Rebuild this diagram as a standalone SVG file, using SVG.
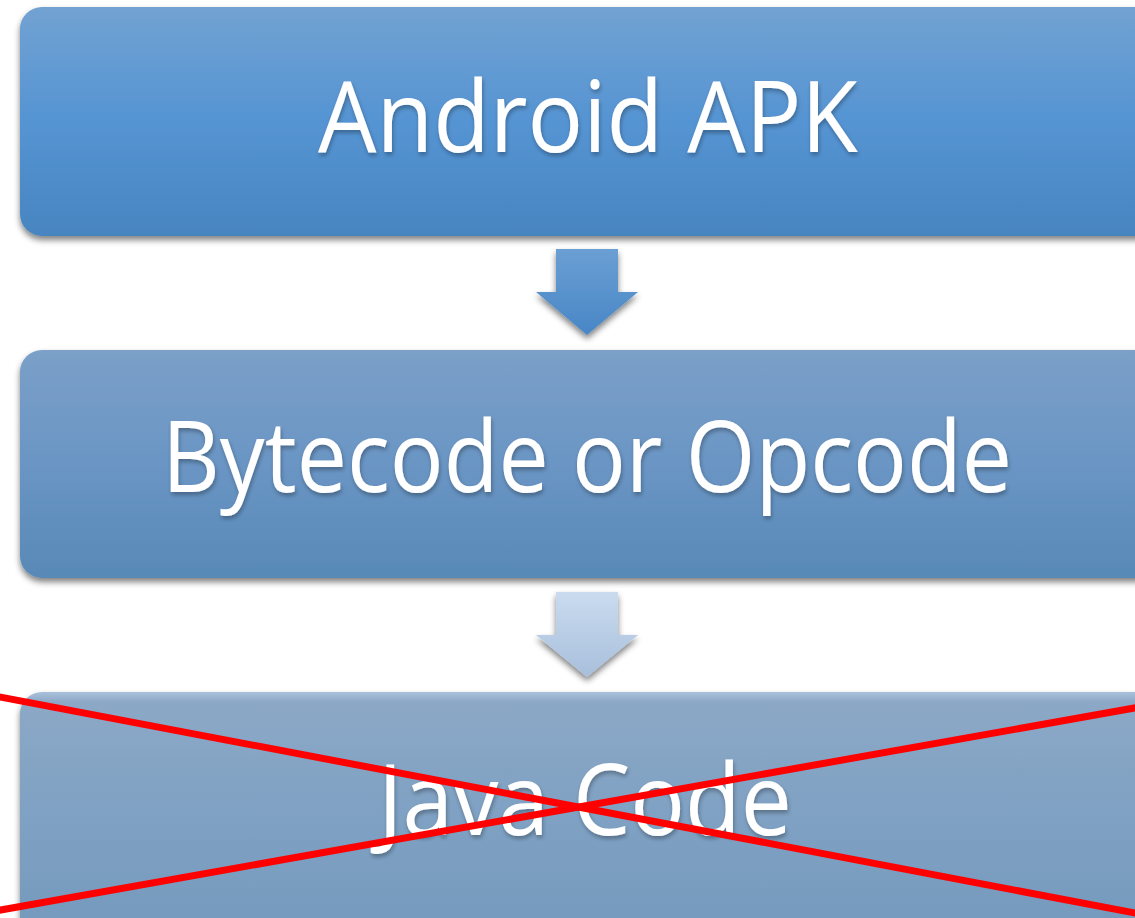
<svg xmlns="http://www.w3.org/2000/svg" width="1135" height="918" viewBox="0 0 1135 918">
  <style>
    .lbl { font-family: "Open Sans", "Liberation Sans", sans-serif; font-size: 98px; fill: #ffffff; text-anchor: middle; filter: url(#tshadow); }
    .cross { stroke: #ff0000; stroke-width: 7; fill: none; }
  </style>
  <defs>
    <linearGradient id="g1" x1="0" y1="0" x2="0" y2="1">
      <stop offset="0" stop-color="#72a2d2"/>
      <stop offset="0.5" stop-color="#5594d3"/>
      <stop offset="1" stop-color="#4785c0"/>
    </linearGradient>
    <linearGradient id="g2" x1="0" y1="0" x2="0" y2="1">
      <stop offset="0" stop-color="#7ba0c8"/>
      <stop offset="0.5" stop-color="#6a95c4"/>
      <stop offset="1" stop-color="#5889b7"/>
    </linearGradient>
    <linearGradient id="g3" x1="0" y1="0" x2="0" y2="1">
      <stop offset="0" stop-color="#a9c1dc"/>
      <stop offset="0.04" stop-color="#8ca8c6"/>
      <stop offset="0.5" stop-color="#7fa1c3"/>
      <stop offset="1" stop-color="#7499bc"/>
    </linearGradient>
    <linearGradient id="ga1" x1="0" y1="0" x2="0" y2="1">
      <stop offset="0" stop-color="#6b9fd3"/>
      <stop offset="1" stop-color="#4886c6"/>
    </linearGradient>
    <linearGradient id="ga2" x1="0" y1="0" x2="0" y2="1">
      <stop offset="0" stop-color="#cadbef"/>
      <stop offset="1" stop-color="#a8bfdc"/>
    </linearGradient>
    <filter id="shadow" x="-10%" y="-10%" width="120%" height="130%">
      <feGaussianBlur in="SourceAlpha" stdDeviation="3"/>
      <feOffset dx="0" dy="4" result="b"/>
      <feComponentTransfer><feFuncA type="linear" slope="0.5"/></feComponentTransfer>
      <feMerge><feMergeNode/><feMergeNode in="SourceGraphic"/></feMerge>
    </filter>
    <filter id="tshadow" x="-5%" y="-10%" width="110%" height="130%">
      <feGaussianBlur in="SourceAlpha" stdDeviation="2"/>
      <feOffset dx="1" dy="3"/>
      <feComponentTransfer><feFuncA type="linear" slope="0.3"/></feComponentTransfer>
      <feMerge><feMergeNode/><feMergeNode in="SourceGraphic"/></feMerge>
    </filter>
  </defs>
  <rect width="1135" height="918" fill="#ffffff"/>

  <g id="node-apk">
    <rect x="20" y="7" width="1140" height="229" rx="22" fill="url(#g1)" filter="url(#shadow)"/>
    <text class="lbl" x="588" y="152" textLength="540" lengthAdjust="spacingAndGlyphs">Android APK</text>
  </g>

  <g id="node-bytecode">
    <rect x="20" y="350" width="1140" height="228" rx="22" fill="url(#g2)" filter="url(#shadow)"/>
    <text class="lbl" x="587" y="492" textLength="850" lengthAdjust="spacingAndGlyphs">Bytecode or Opcode</text>
  </g>

  <g id="node-java">
    <rect x="20" y="692" width="1140" height="250" rx="22" fill="url(#g3)" filter="url(#shadow)"/>
    <text class="lbl" x="585" y="835" textLength="414" lengthAdjust="spacingAndGlyphs">Java Code</text>
  </g>

  <g id="connectors">
    <polygon points="556,249 618,249 618,292 638,292 587,335 536,292 556,292" fill="url(#ga1)" filter="url(#shadow)"/>
    <polygon points="556,592 618,592 618,635 638,635 587,677 536,635 556,635" fill="url(#ga2)" filter="url(#shadow)"/>
  </g>

  <g id="cross">
    <line class="cross" x1="-5" y1="696" x2="1140" y2="914"/>
    <line class="cross" x1="-5" y1="911" x2="1140" y2="707"/>
  </g>
</svg>
